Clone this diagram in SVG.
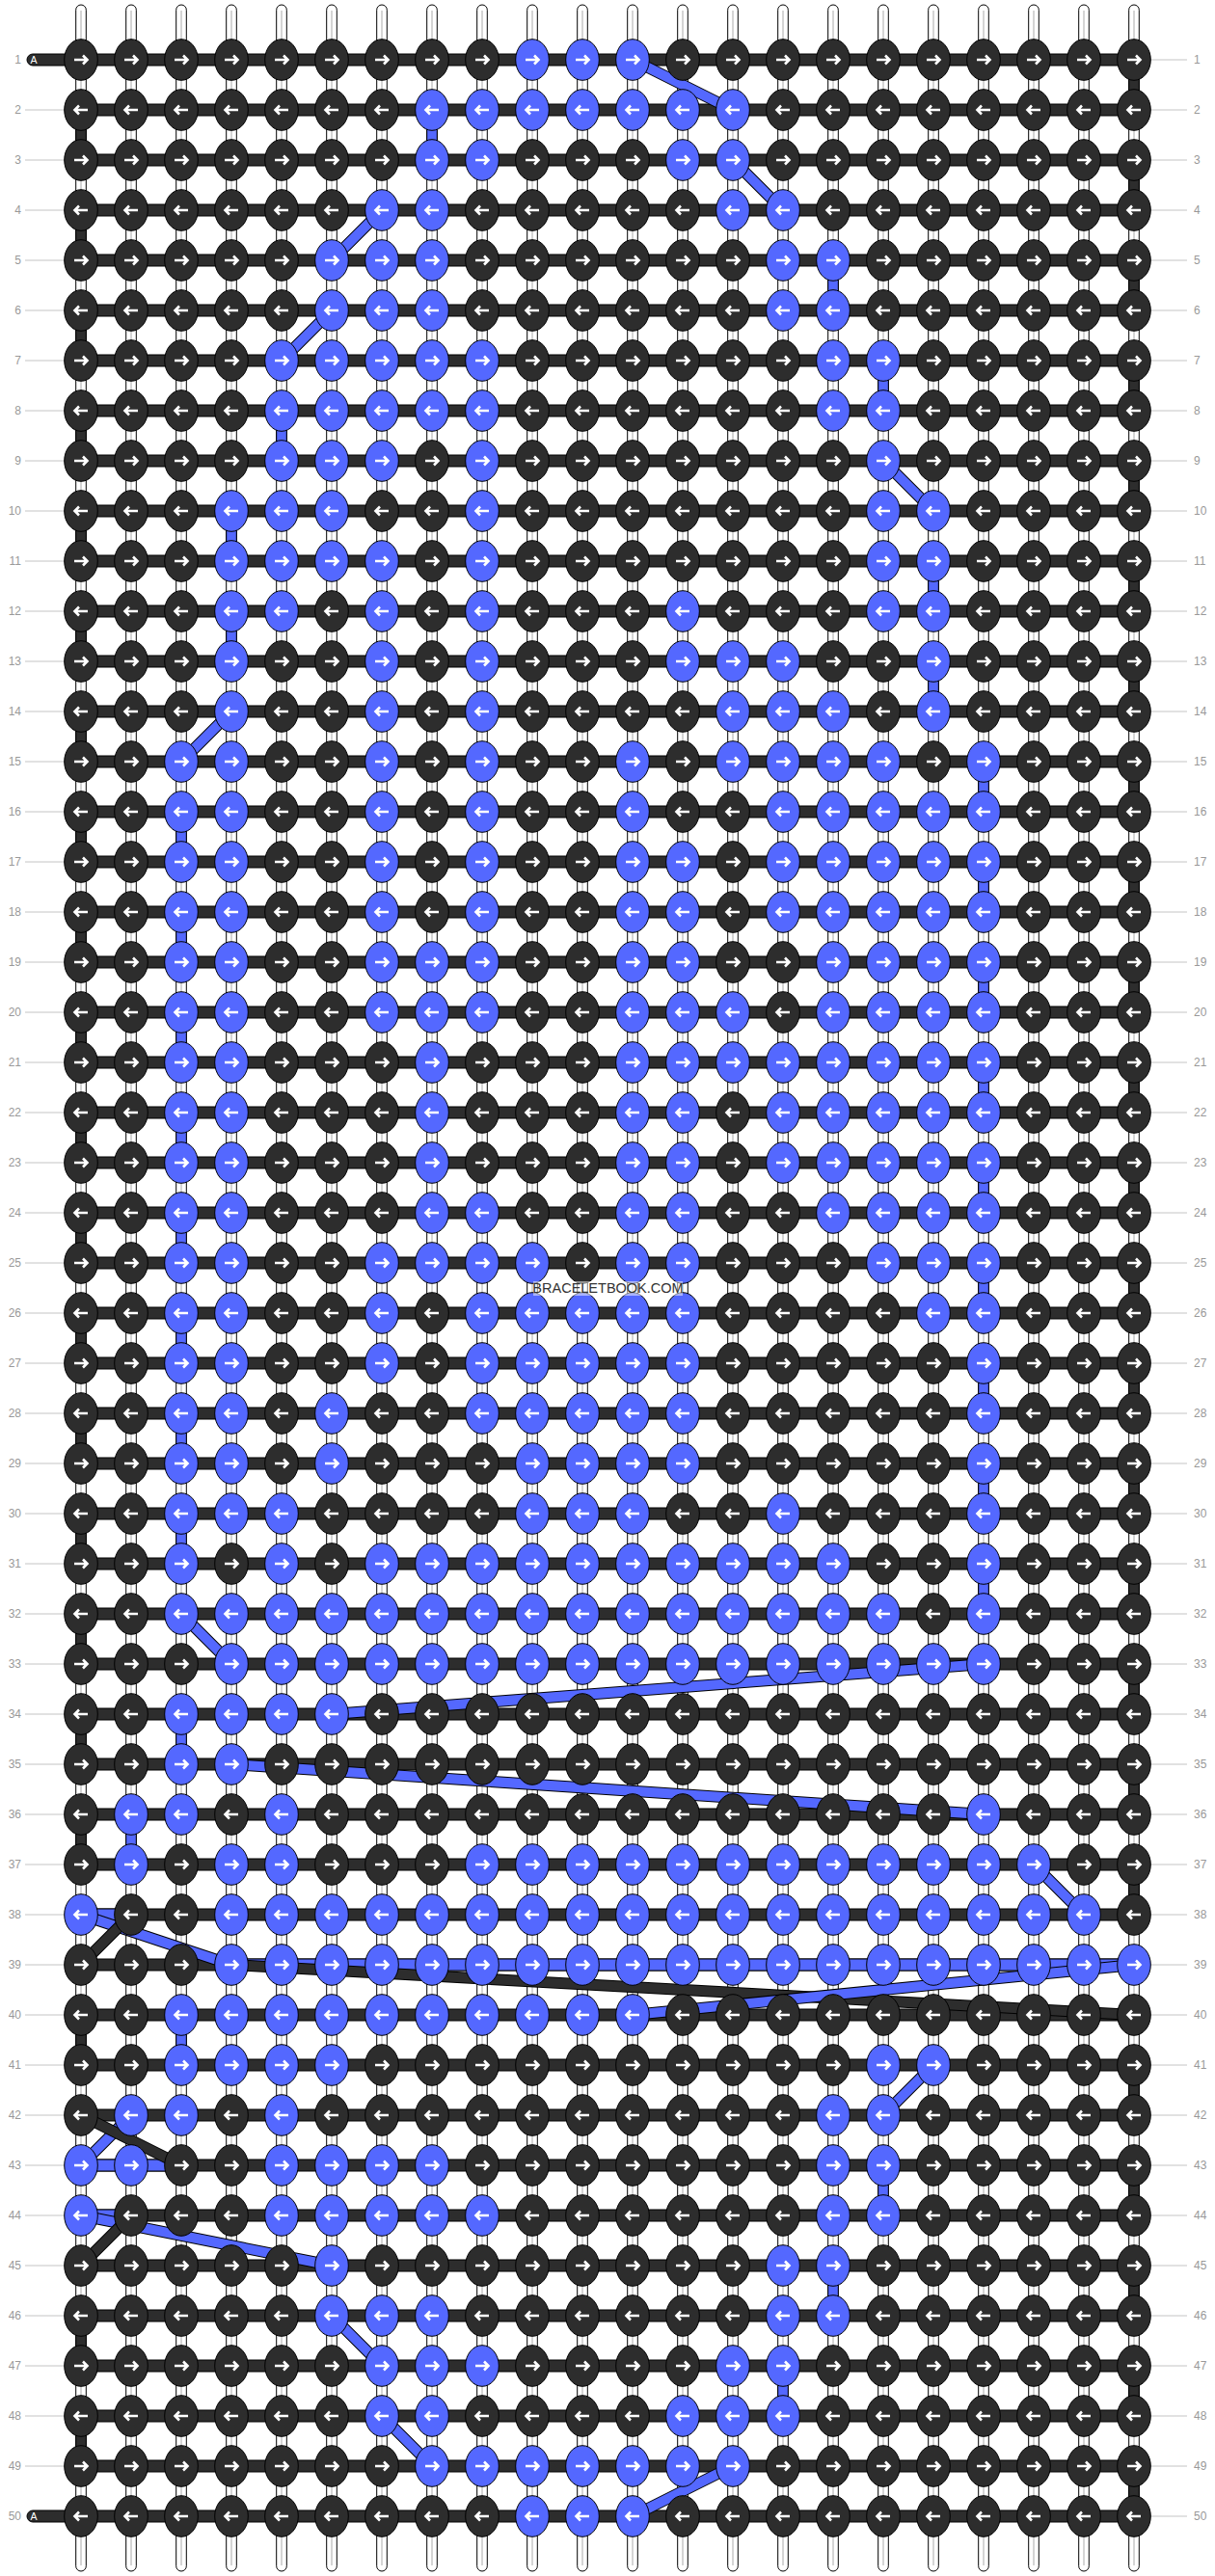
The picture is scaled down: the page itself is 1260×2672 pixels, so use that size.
<svg xmlns="http://www.w3.org/2000/svg" width="1260" height="2672" viewBox="0 0 1260 2672">
<style>
.dk{fill:#2d2d2d;stroke:#000;stroke-width:1}
.bl{fill:#5468ff;stroke:#000;stroke-width:1}
.arw{fill:none;stroke:#fff;stroke-width:2.6}
.lab{font-family:"Liberation Sans",Arial,sans-serif;font-size:12px;fill:#999}
.gl{stroke:#c4c4c4;stroke-width:1;fill:none}
</style>
<defs>
<g id="s"><rect x="-5.3" y="5" width="10.6" height="2662" rx="5.3" fill="#fff" stroke="#000"/><line x1="0" y1="11" x2="0" y2="2661" stroke="#aaa"/></g>
<path id="ar" class="arw" d="M-7 0H6.5M2-4.5L6.5 0L2 4.5"/>
<path id="al" class="arw" d="M7 0H-6.5M-2-4.5L-6.5 0L-2 4.5"/>
<g id="a"><ellipse rx="17.3" ry="21.3" class="dk"/><use href="#ar"/></g>
<g id="b"><ellipse rx="17.3" ry="21.3" class="bl"/><use href="#ar"/></g>
<g id="c"><ellipse rx="17.3" ry="21.3" class="dk"/><use href="#al"/></g>
<g id="d"><ellipse rx="17.3" ry="21.3" class="bl"/><use href="#al"/></g>
<rect id="vd" x="-5.3" y="14" width="10.6" height="24" class="dk"/>
<rect id="vb" x="-5.3" y="14" width="10.6" height="24" class="bl"/>
<rect id="hb" x="84" y="-6" width="1092" height="12" class="dk"/>
</defs>
<rect width="1260" height="2672" fill="#fff"/>
<g id="strings"><use href="#s" x="84"/><use href="#s" x="136"/><use href="#s" x="188"/><use href="#s" x="240"/><use href="#s" x="292"/><use href="#s" x="344"/><use href="#s" x="396"/><use href="#s" x="448"/><use href="#s" x="500"/><use href="#s" x="552"/><use href="#s" x="604"/><use href="#s" x="656"/><use href="#s" x="708"/><use href="#s" x="760"/><use href="#s" x="812"/><use href="#s" x="864"/><use href="#s" x="916"/><use href="#s" x="968"/><use href="#s" x="1020"/><use href="#s" x="1072"/><use href="#s" x="1124"/><use href="#s" x="1176"/></g>
<g id="row-lines">
<path class="gl" d="M26 114H66M26 166H66M26 218H66M26 270H66M26 322H66M26 374H66M26 426H66M26 478H66M26 530H66M26 582H66M26 634H66M26 686H66M26 738H66M26 790H66M26 842H66M26 894H66M26 946H66M26 998H66M26 1050H66M26 1102H66M26 1154H66M26 1206H66M26 1258H66M26 1310H66M26 1362H66M26 1414H66M26 1466H66M26 1518H66M26 1570H66M26 1622H66M26 1674H66M26 1726H66M26 1778H66M26 1830H66M26 1882H66M26 1934H66M26 1986H66M26 2038H66M26 2090H66M26 2142H66M26 2194H66M26 2246H66M26 2298H66M26 2350H66M26 2402H66M26 2454H66M26 2506H66M26 2558H66"/>
<path class="gl" d="M1194 62H1231M1194 114H1231M1194 166H1231M1194 218H1231M1194 270H1231M1194 322H1231M1194 374H1231M1194 426H1231M1194 478H1231M1194 530H1231M1194 582H1231M1194 634H1231M1194 686H1231M1194 738H1231M1194 790H1231M1194 842H1231M1194 894H1231M1194 946H1231M1194 998H1231M1194 1050H1231M1194 1102H1231M1194 1154H1231M1194 1206H1231M1194 1258H1231M1194 1310H1231M1194 1362H1231M1194 1414H1231M1194 1466H1231M1194 1518H1231M1194 1570H1231M1194 1622H1231M1194 1674H1231M1194 1726H1231M1194 1778H1231M1194 1830H1231M1194 1882H1231M1194 1934H1231M1194 1986H1231M1194 2038H1231M1194 2090H1231M1194 2142H1231M1194 2194H1231M1194 2246H1231M1194 2298H1231M1194 2350H1231M1194 2402H1231M1194 2454H1231M1194 2506H1231M1194 2558H1231M1194 2610H1231"/>
</g>
<g id="labels-left" class="lab" text-anchor="end">
<text x="22" y="66">1</text><text x="22" y="118">2</text><text x="22" y="170">3</text><text x="22" y="222">4</text><text x="22" y="274">5</text><text x="22" y="326">6</text><text x="22" y="378">7</text><text x="22" y="430">8</text><text x="22" y="482">9</text><text x="22" y="534">10</text><text x="22" y="586">11</text><text x="22" y="638">12</text><text x="22" y="690">13</text><text x="22" y="742">14</text><text x="22" y="794">15</text><text x="22" y="846">16</text><text x="22" y="898">17</text><text x="22" y="950">18</text><text x="22" y="1002">19</text><text x="22" y="1054">20</text><text x="22" y="1106">21</text><text x="22" y="1158">22</text><text x="22" y="1210">23</text><text x="22" y="1262">24</text><text x="22" y="1314">25</text><text x="22" y="1366">26</text><text x="22" y="1418">27</text><text x="22" y="1470">28</text><text x="22" y="1522">29</text><text x="22" y="1574">30</text><text x="22" y="1626">31</text><text x="22" y="1678">32</text><text x="22" y="1730">33</text><text x="22" y="1782">34</text><text x="22" y="1834">35</text><text x="22" y="1886">36</text><text x="22" y="1938">37</text><text x="22" y="1990">38</text><text x="22" y="2042">39</text><text x="22" y="2094">40</text><text x="22" y="2146">41</text><text x="22" y="2198">42</text><text x="22" y="2250">43</text><text x="22" y="2302">44</text><text x="22" y="2354">45</text><text x="22" y="2406">46</text><text x="22" y="2458">47</text><text x="22" y="2510">48</text><text x="22" y="2562">49</text><text x="22" y="2614">50</text>
</g>
<g id="labels-right" class="lab">
<text x="1238" y="66">1</text><text x="1238" y="118">2</text><text x="1238" y="170">3</text><text x="1238" y="222">4</text><text x="1238" y="274">5</text><text x="1238" y="326">6</text><text x="1238" y="378">7</text><text x="1238" y="430">8</text><text x="1238" y="482">9</text><text x="1238" y="534">10</text><text x="1238" y="586">11</text><text x="1238" y="638">12</text><text x="1238" y="690">13</text><text x="1238" y="742">14</text><text x="1238" y="794">15</text><text x="1238" y="846">16</text><text x="1238" y="898">17</text><text x="1238" y="950">18</text><text x="1238" y="1002">19</text><text x="1238" y="1054">20</text><text x="1238" y="1106">21</text><text x="1238" y="1158">22</text><text x="1238" y="1210">23</text><text x="1238" y="1262">24</text><text x="1238" y="1314">25</text><text x="1238" y="1366">26</text><text x="1238" y="1418">27</text><text x="1238" y="1470">28</text><text x="1238" y="1522">29</text><text x="1238" y="1574">30</text><text x="1238" y="1626">31</text><text x="1238" y="1678">32</text><text x="1238" y="1730">33</text><text x="1238" y="1782">34</text><text x="1238" y="1834">35</text><text x="1238" y="1886">36</text><text x="1238" y="1938">37</text><text x="1238" y="1990">38</text><text x="1238" y="2042">39</text><text x="1238" y="2094">40</text><text x="1238" y="2146">41</text><text x="1238" y="2198">42</text><text x="1238" y="2250">43</text><text x="1238" y="2302">44</text><text x="1238" y="2354">45</text><text x="1238" y="2406">46</text><text x="1238" y="2458">47</text><text x="1238" y="2510">48</text><text x="1238" y="2562">49</text><text x="1238" y="2614">50</text>
</g>
<g id="connectors">
<rect x="28" y="56" width="1148" height="12" rx="6" class="dk"/>
<rect x="28" y="2604" width="1148" height="12" rx="6" class="dk"/>
<use href="#hb" y="114"/><use href="#hb" y="166"/><use href="#hb" y="218"/><use href="#hb" y="270"/><use href="#hb" y="322"/><use href="#hb" y="374"/><use href="#hb" y="426"/><use href="#hb" y="478"/><use href="#hb" y="530"/><use href="#hb" y="582"/><use href="#hb" y="634"/><use href="#hb" y="686"/><use href="#hb" y="738"/><use href="#hb" y="790"/><use href="#hb" y="842"/><use href="#hb" y="894"/><use href="#hb" y="946"/><use href="#hb" y="998"/><use href="#hb" y="1050"/><use href="#hb" y="1102"/><use href="#hb" y="1154"/><use href="#hb" y="1206"/><use href="#hb" y="1258"/><use href="#hb" y="1310"/><use href="#hb" y="1362"/><use href="#hb" y="1414"/><use href="#hb" y="1466"/><use href="#hb" y="1518"/><use href="#hb" y="1570"/><use href="#hb" y="1622"/><use href="#hb" y="1674"/><use href="#hb" y="1726"/><use href="#hb" y="1778"/><use href="#hb" y="1830"/><use href="#hb" y="1882"/><use href="#hb" y="1934"/><use href="#hb" y="1986"/><use href="#hb" y="2038"/><use href="#hb" y="2090"/><use href="#hb" y="2142"/><use href="#hb" y="2194"/><use href="#hb" y="2246"/><use href="#hb" y="2298"/><use href="#hb" y="2350"/><use href="#hb" y="2402"/><use href="#hb" y="2454"/><use href="#hb" y="2506"/><use href="#hb" y="2558"/>
<rect x="84" y="1980" width="52" height="12" class="bl"/>
<rect x="240" y="2032" width="936" height="12" class="bl"/>
<rect x="84" y="2240" width="104" height="12" class="bl"/>
<rect x="84" y="2292" width="52" height="12" class="bl"/>
<use href="#vd" x="1176" y="62"/><use href="#vd" x="1176" y="166"/><use href="#vd" x="1176" y="270"/><use href="#vd" x="1176" y="374"/><use href="#vd" x="1176" y="478"/><use href="#vd" x="1176" y="582"/><use href="#vd" x="1176" y="686"/><use href="#vd" x="1176" y="790"/><use href="#vd" x="1176" y="894"/><use href="#vd" x="1176" y="998"/><use href="#vd" x="1176" y="1102"/><use href="#vd" x="1176" y="1206"/><use href="#vd" x="1176" y="1310"/><use href="#vd" x="1176" y="1414"/><use href="#vd" x="1176" y="1518"/><use href="#vd" x="1176" y="1622"/><use href="#vd" x="1176" y="1726"/><use href="#vd" x="1176" y="1830"/><use href="#vd" x="1176" y="1934"/><use href="#vd" x="1176" y="2142"/><use href="#vd" x="1176" y="2246"/><use href="#vd" x="1176" y="2350"/><use href="#vd" x="1176" y="2454"/><use href="#vd" x="1176" y="2558"/>
<use href="#vd" x="84" y="114"/><use href="#vd" x="84" y="218"/><use href="#vd" x="84" y="322"/><use href="#vd" x="84" y="426"/><use href="#vd" x="84" y="530"/><use href="#vd" x="84" y="634"/><use href="#vd" x="84" y="738"/><use href="#vd" x="84" y="842"/><use href="#vd" x="84" y="946"/><use href="#vd" x="84" y="1050"/><use href="#vd" x="84" y="1154"/><use href="#vd" x="84" y="1258"/><use href="#vd" x="84" y="1362"/><use href="#vd" x="84" y="1466"/><use href="#vd" x="84" y="1570"/><use href="#vd" x="84" y="1674"/><use href="#vd" x="84" y="1778"/><use href="#vd" x="84" y="1882"/><use href="#vd" x="84" y="2090"/><use href="#vd" x="84" y="2402"/><use href="#vd" x="84" y="2506"/>
<use href="#vb" x="448" y="114"/><use href="#vb" x="864" y="270"/><use href="#vb" x="916" y="374"/><use href="#vb" x="292" y="426"/><use href="#vb" x="240" y="530"/><use href="#vb" x="968" y="582"/><use href="#vb" x="240" y="634"/><use href="#vb" x="968" y="686"/><use href="#vb" x="1020" y="790"/><use href="#vb" x="188" y="842"/><use href="#vb" x="1020" y="894"/><use href="#vb" x="188" y="946"/><use href="#vb" x="1020" y="998"/><use href="#vb" x="188" y="1050"/><use href="#vb" x="1020" y="1102"/><use href="#vb" x="188" y="1154"/><use href="#vb" x="1020" y="1206"/><use href="#vb" x="188" y="1258"/><use href="#vb" x="1020" y="1310"/><use href="#vb" x="188" y="1362"/><use href="#vb" x="1020" y="1414"/><use href="#vb" x="188" y="1466"/><use href="#vb" x="1020" y="1518"/><use href="#vb" x="188" y="1570"/><use href="#vb" x="1020" y="1622"/><use href="#vb" x="188" y="1778"/><use href="#vb" x="136" y="1882"/><use href="#vb" x="188" y="2090"/><use href="#vb" x="916" y="2246"/><use href="#vb" x="864" y="2350"/><use href="#vb" x="812" y="2454"/>
<path d="M656 62L760 114M760 166L812 218M396 218L344 270M344 322L292 374M916 478L968 530M240 738L188 790M188 1674L240 1726M1020 1726L344 1778M240 1830L1020 1882M1072 1934L1124 1986M84 1986L240 2038M968 2142L916 2194M136 2194L84 2246M84 2298L344 2350M344 2402L396 2454M396 2506L448 2558M760 2558L656 2610" fill="none" stroke="#000" stroke-width="12"/>
<path d="M656 62L760 114M760 166L812 218M396 218L344 270M344 322L292 374M916 478L968 530M240 738L188 790M188 1674L240 1726M1020 1726L344 1778M240 1830L1020 1882M1072 1934L1124 1986M84 1986L240 2038M968 2142L916 2194M136 2194L84 2246M84 2298L344 2350M344 2402L396 2454M396 2506L448 2558M760 2558L656 2610" fill="none" stroke="#5468ff" stroke-width="10"/>
<path d="M136 1986L84 2038M240 2038L1176 2090M84 2194L188 2246M136 2298L84 2350" fill="none" stroke="#000" stroke-width="12"/>
<path d="M136 1986L84 2038M240 2038L1176 2090M84 2194L188 2246M136 2298L84 2350" fill="none" stroke="#2d2d2d" stroke-width="10"/>
<path d="M1176 2038L656 2090" fill="none" stroke="#000" stroke-width="12"/>
<path d="M1176 2038L656 2090" fill="none" stroke="#5468ff" stroke-width="10"/>
</g>
<g id="row1" transform="translate(0,62)"><use href="#a" x="84"/><use href="#a" x="136"/><use href="#a" x="188"/><use href="#a" x="240"/><use href="#a" x="292"/><use href="#a" x="344"/><use href="#a" x="396"/><use href="#a" x="448"/><use href="#a" x="500"/><use href="#b" x="552"/><use href="#b" x="604"/><use href="#b" x="656"/><use href="#a" x="708"/><use href="#a" x="760"/><use href="#a" x="812"/><use href="#a" x="864"/><use href="#a" x="916"/><use href="#a" x="968"/><use href="#a" x="1020"/><use href="#a" x="1072"/><use href="#a" x="1124"/><use href="#a" x="1176"/></g>
<g id="row2" transform="translate(0,114)"><use href="#c" x="84"/><use href="#c" x="136"/><use href="#c" x="188"/><use href="#c" x="240"/><use href="#c" x="292"/><use href="#c" x="344"/><use href="#c" x="396"/><use href="#d" x="448"/><use href="#d" x="500"/><use href="#d" x="552"/><use href="#d" x="604"/><use href="#d" x="656"/><use href="#d" x="708"/><use href="#d" x="760"/><use href="#c" x="812"/><use href="#c" x="864"/><use href="#c" x="916"/><use href="#c" x="968"/><use href="#c" x="1020"/><use href="#c" x="1072"/><use href="#c" x="1124"/><use href="#c" x="1176"/></g>
<g id="row3" transform="translate(0,166)"><use href="#a" x="84"/><use href="#a" x="136"/><use href="#a" x="188"/><use href="#a" x="240"/><use href="#a" x="292"/><use href="#a" x="344"/><use href="#a" x="396"/><use href="#b" x="448"/><use href="#b" x="500"/><use href="#a" x="552"/><use href="#a" x="604"/><use href="#a" x="656"/><use href="#b" x="708"/><use href="#b" x="760"/><use href="#a" x="812"/><use href="#a" x="864"/><use href="#a" x="916"/><use href="#a" x="968"/><use href="#a" x="1020"/><use href="#a" x="1072"/><use href="#a" x="1124"/><use href="#a" x="1176"/></g>
<g id="row4" transform="translate(0,218)"><use href="#c" x="84"/><use href="#c" x="136"/><use href="#c" x="188"/><use href="#c" x="240"/><use href="#c" x="292"/><use href="#c" x="344"/><use href="#d" x="396"/><use href="#d" x="448"/><use href="#c" x="500"/><use href="#c" x="552"/><use href="#c" x="604"/><use href="#c" x="656"/><use href="#c" x="708"/><use href="#d" x="760"/><use href="#d" x="812"/><use href="#c" x="864"/><use href="#c" x="916"/><use href="#c" x="968"/><use href="#c" x="1020"/><use href="#c" x="1072"/><use href="#c" x="1124"/><use href="#c" x="1176"/></g>
<g id="row5" transform="translate(0,270)"><use href="#a" x="84"/><use href="#a" x="136"/><use href="#a" x="188"/><use href="#a" x="240"/><use href="#a" x="292"/><use href="#b" x="344"/><use href="#b" x="396"/><use href="#b" x="448"/><use href="#a" x="500"/><use href="#a" x="552"/><use href="#a" x="604"/><use href="#a" x="656"/><use href="#a" x="708"/><use href="#a" x="760"/><use href="#b" x="812"/><use href="#b" x="864"/><use href="#a" x="916"/><use href="#a" x="968"/><use href="#a" x="1020"/><use href="#a" x="1072"/><use href="#a" x="1124"/><use href="#a" x="1176"/></g>
<g id="row6" transform="translate(0,322)"><use href="#c" x="84"/><use href="#c" x="136"/><use href="#c" x="188"/><use href="#c" x="240"/><use href="#c" x="292"/><use href="#d" x="344"/><use href="#d" x="396"/><use href="#d" x="448"/><use href="#c" x="500"/><use href="#c" x="552"/><use href="#c" x="604"/><use href="#c" x="656"/><use href="#c" x="708"/><use href="#c" x="760"/><use href="#d" x="812"/><use href="#d" x="864"/><use href="#c" x="916"/><use href="#c" x="968"/><use href="#c" x="1020"/><use href="#c" x="1072"/><use href="#c" x="1124"/><use href="#c" x="1176"/></g>
<g id="row7" transform="translate(0,374)"><use href="#a" x="84"/><use href="#a" x="136"/><use href="#a" x="188"/><use href="#a" x="240"/><use href="#b" x="292"/><use href="#b" x="344"/><use href="#b" x="396"/><use href="#b" x="448"/><use href="#b" x="500"/><use href="#a" x="552"/><use href="#a" x="604"/><use href="#a" x="656"/><use href="#a" x="708"/><use href="#a" x="760"/><use href="#a" x="812"/><use href="#b" x="864"/><use href="#b" x="916"/><use href="#a" x="968"/><use href="#a" x="1020"/><use href="#a" x="1072"/><use href="#a" x="1124"/><use href="#a" x="1176"/></g>
<g id="row8" transform="translate(0,426)"><use href="#c" x="84"/><use href="#c" x="136"/><use href="#c" x="188"/><use href="#c" x="240"/><use href="#d" x="292"/><use href="#d" x="344"/><use href="#d" x="396"/><use href="#d" x="448"/><use href="#d" x="500"/><use href="#c" x="552"/><use href="#c" x="604"/><use href="#c" x="656"/><use href="#c" x="708"/><use href="#c" x="760"/><use href="#c" x="812"/><use href="#d" x="864"/><use href="#d" x="916"/><use href="#c" x="968"/><use href="#c" x="1020"/><use href="#c" x="1072"/><use href="#c" x="1124"/><use href="#c" x="1176"/></g>
<g id="row9" transform="translate(0,478)"><use href="#a" x="84"/><use href="#a" x="136"/><use href="#a" x="188"/><use href="#a" x="240"/><use href="#b" x="292"/><use href="#b" x="344"/><use href="#b" x="396"/><use href="#a" x="448"/><use href="#b" x="500"/><use href="#a" x="552"/><use href="#a" x="604"/><use href="#a" x="656"/><use href="#a" x="708"/><use href="#a" x="760"/><use href="#a" x="812"/><use href="#a" x="864"/><use href="#b" x="916"/><use href="#a" x="968"/><use href="#a" x="1020"/><use href="#a" x="1072"/><use href="#a" x="1124"/><use href="#a" x="1176"/></g>
<g id="row10" transform="translate(0,530)"><use href="#c" x="84"/><use href="#c" x="136"/><use href="#c" x="188"/><use href="#d" x="240"/><use href="#d" x="292"/><use href="#d" x="344"/><use href="#c" x="396"/><use href="#c" x="448"/><use href="#d" x="500"/><use href="#c" x="552"/><use href="#c" x="604"/><use href="#c" x="656"/><use href="#c" x="708"/><use href="#c" x="760"/><use href="#c" x="812"/><use href="#c" x="864"/><use href="#d" x="916"/><use href="#d" x="968"/><use href="#c" x="1020"/><use href="#c" x="1072"/><use href="#c" x="1124"/><use href="#c" x="1176"/></g>
<g id="row11" transform="translate(0,582)"><use href="#a" x="84"/><use href="#a" x="136"/><use href="#a" x="188"/><use href="#b" x="240"/><use href="#b" x="292"/><use href="#b" x="344"/><use href="#b" x="396"/><use href="#a" x="448"/><use href="#b" x="500"/><use href="#a" x="552"/><use href="#a" x="604"/><use href="#a" x="656"/><use href="#a" x="708"/><use href="#a" x="760"/><use href="#a" x="812"/><use href="#a" x="864"/><use href="#b" x="916"/><use href="#b" x="968"/><use href="#a" x="1020"/><use href="#a" x="1072"/><use href="#a" x="1124"/><use href="#a" x="1176"/></g>
<g id="row12" transform="translate(0,634)"><use href="#c" x="84"/><use href="#c" x="136"/><use href="#c" x="188"/><use href="#d" x="240"/><use href="#d" x="292"/><use href="#c" x="344"/><use href="#d" x="396"/><use href="#c" x="448"/><use href="#d" x="500"/><use href="#c" x="552"/><use href="#c" x="604"/><use href="#c" x="656"/><use href="#d" x="708"/><use href="#c" x="760"/><use href="#c" x="812"/><use href="#c" x="864"/><use href="#d" x="916"/><use href="#d" x="968"/><use href="#c" x="1020"/><use href="#c" x="1072"/><use href="#c" x="1124"/><use href="#c" x="1176"/></g>
<g id="row13" transform="translate(0,686)"><use href="#a" x="84"/><use href="#a" x="136"/><use href="#a" x="188"/><use href="#b" x="240"/><use href="#a" x="292"/><use href="#a" x="344"/><use href="#b" x="396"/><use href="#a" x="448"/><use href="#b" x="500"/><use href="#a" x="552"/><use href="#a" x="604"/><use href="#a" x="656"/><use href="#b" x="708"/><use href="#b" x="760"/><use href="#b" x="812"/><use href="#a" x="864"/><use href="#a" x="916"/><use href="#b" x="968"/><use href="#a" x="1020"/><use href="#a" x="1072"/><use href="#a" x="1124"/><use href="#a" x="1176"/></g>
<g id="row14" transform="translate(0,738)"><use href="#c" x="84"/><use href="#c" x="136"/><use href="#c" x="188"/><use href="#d" x="240"/><use href="#c" x="292"/><use href="#c" x="344"/><use href="#d" x="396"/><use href="#c" x="448"/><use href="#d" x="500"/><use href="#c" x="552"/><use href="#c" x="604"/><use href="#c" x="656"/><use href="#c" x="708"/><use href="#d" x="760"/><use href="#d" x="812"/><use href="#d" x="864"/><use href="#c" x="916"/><use href="#d" x="968"/><use href="#c" x="1020"/><use href="#c" x="1072"/><use href="#c" x="1124"/><use href="#c" x="1176"/></g>
<g id="row15" transform="translate(0,790)"><use href="#a" x="84"/><use href="#a" x="136"/><use href="#b" x="188"/><use href="#b" x="240"/><use href="#a" x="292"/><use href="#a" x="344"/><use href="#b" x="396"/><use href="#a" x="448"/><use href="#b" x="500"/><use href="#a" x="552"/><use href="#a" x="604"/><use href="#b" x="656"/><use href="#a" x="708"/><use href="#b" x="760"/><use href="#b" x="812"/><use href="#b" x="864"/><use href="#b" x="916"/><use href="#a" x="968"/><use href="#b" x="1020"/><use href="#a" x="1072"/><use href="#a" x="1124"/><use href="#a" x="1176"/></g>
<g id="row16" transform="translate(0,842)"><use href="#c" x="84"/><use href="#c" x="136"/><use href="#d" x="188"/><use href="#d" x="240"/><use href="#c" x="292"/><use href="#c" x="344"/><use href="#d" x="396"/><use href="#c" x="448"/><use href="#d" x="500"/><use href="#c" x="552"/><use href="#c" x="604"/><use href="#d" x="656"/><use href="#c" x="708"/><use href="#c" x="760"/><use href="#d" x="812"/><use href="#d" x="864"/><use href="#d" x="916"/><use href="#d" x="968"/><use href="#d" x="1020"/><use href="#c" x="1072"/><use href="#c" x="1124"/><use href="#c" x="1176"/></g>
<g id="row17" transform="translate(0,894)"><use href="#a" x="84"/><use href="#a" x="136"/><use href="#b" x="188"/><use href="#b" x="240"/><use href="#a" x="292"/><use href="#a" x="344"/><use href="#b" x="396"/><use href="#a" x="448"/><use href="#b" x="500"/><use href="#a" x="552"/><use href="#a" x="604"/><use href="#b" x="656"/><use href="#b" x="708"/><use href="#a" x="760"/><use href="#b" x="812"/><use href="#b" x="864"/><use href="#b" x="916"/><use href="#b" x="968"/><use href="#b" x="1020"/><use href="#a" x="1072"/><use href="#a" x="1124"/><use href="#a" x="1176"/></g>
<g id="row18" transform="translate(0,946)"><use href="#c" x="84"/><use href="#c" x="136"/><use href="#d" x="188"/><use href="#d" x="240"/><use href="#c" x="292"/><use href="#c" x="344"/><use href="#d" x="396"/><use href="#c" x="448"/><use href="#d" x="500"/><use href="#c" x="552"/><use href="#c" x="604"/><use href="#d" x="656"/><use href="#d" x="708"/><use href="#c" x="760"/><use href="#d" x="812"/><use href="#d" x="864"/><use href="#d" x="916"/><use href="#d" x="968"/><use href="#d" x="1020"/><use href="#c" x="1072"/><use href="#c" x="1124"/><use href="#c" x="1176"/></g>
<g id="row19" transform="translate(0,998)"><use href="#a" x="84"/><use href="#a" x="136"/><use href="#b" x="188"/><use href="#b" x="240"/><use href="#a" x="292"/><use href="#a" x="344"/><use href="#b" x="396"/><use href="#b" x="448"/><use href="#b" x="500"/><use href="#a" x="552"/><use href="#a" x="604"/><use href="#b" x="656"/><use href="#b" x="708"/><use href="#a" x="760"/><use href="#a" x="812"/><use href="#b" x="864"/><use href="#b" x="916"/><use href="#b" x="968"/><use href="#b" x="1020"/><use href="#a" x="1072"/><use href="#a" x="1124"/><use href="#a" x="1176"/></g>
<g id="row20" transform="translate(0,1050)"><use href="#c" x="84"/><use href="#c" x="136"/><use href="#d" x="188"/><use href="#d" x="240"/><use href="#c" x="292"/><use href="#c" x="344"/><use href="#d" x="396"/><use href="#d" x="448"/><use href="#d" x="500"/><use href="#c" x="552"/><use href="#c" x="604"/><use href="#d" x="656"/><use href="#d" x="708"/><use href="#d" x="760"/><use href="#c" x="812"/><use href="#d" x="864"/><use href="#d" x="916"/><use href="#d" x="968"/><use href="#d" x="1020"/><use href="#c" x="1072"/><use href="#c" x="1124"/><use href="#c" x="1176"/></g>
<g id="row21" transform="translate(0,1102)"><use href="#a" x="84"/><use href="#a" x="136"/><use href="#b" x="188"/><use href="#b" x="240"/><use href="#a" x="292"/><use href="#a" x="344"/><use href="#a" x="396"/><use href="#b" x="448"/><use href="#a" x="500"/><use href="#a" x="552"/><use href="#a" x="604"/><use href="#b" x="656"/><use href="#b" x="708"/><use href="#b" x="760"/><use href="#b" x="812"/><use href="#b" x="864"/><use href="#b" x="916"/><use href="#b" x="968"/><use href="#b" x="1020"/><use href="#a" x="1072"/><use href="#a" x="1124"/><use href="#a" x="1176"/></g>
<g id="row22" transform="translate(0,1154)"><use href="#c" x="84"/><use href="#c" x="136"/><use href="#d" x="188"/><use href="#d" x="240"/><use href="#c" x="292"/><use href="#c" x="344"/><use href="#c" x="396"/><use href="#d" x="448"/><use href="#c" x="500"/><use href="#c" x="552"/><use href="#c" x="604"/><use href="#d" x="656"/><use href="#d" x="708"/><use href="#c" x="760"/><use href="#d" x="812"/><use href="#d" x="864"/><use href="#d" x="916"/><use href="#d" x="968"/><use href="#d" x="1020"/><use href="#c" x="1072"/><use href="#c" x="1124"/><use href="#c" x="1176"/></g>
<g id="row23" transform="translate(0,1206)"><use href="#a" x="84"/><use href="#a" x="136"/><use href="#b" x="188"/><use href="#b" x="240"/><use href="#a" x="292"/><use href="#a" x="344"/><use href="#a" x="396"/><use href="#b" x="448"/><use href="#a" x="500"/><use href="#a" x="552"/><use href="#a" x="604"/><use href="#b" x="656"/><use href="#b" x="708"/><use href="#a" x="760"/><use href="#b" x="812"/><use href="#b" x="864"/><use href="#b" x="916"/><use href="#b" x="968"/><use href="#b" x="1020"/><use href="#a" x="1072"/><use href="#a" x="1124"/><use href="#a" x="1176"/></g>
<g id="row24" transform="translate(0,1258)"><use href="#c" x="84"/><use href="#c" x="136"/><use href="#d" x="188"/><use href="#d" x="240"/><use href="#c" x="292"/><use href="#c" x="344"/><use href="#c" x="396"/><use href="#d" x="448"/><use href="#d" x="500"/><use href="#c" x="552"/><use href="#c" x="604"/><use href="#d" x="656"/><use href="#d" x="708"/><use href="#c" x="760"/><use href="#c" x="812"/><use href="#d" x="864"/><use href="#d" x="916"/><use href="#d" x="968"/><use href="#d" x="1020"/><use href="#c" x="1072"/><use href="#c" x="1124"/><use href="#c" x="1176"/></g>
<g id="row25" transform="translate(0,1310)"><use href="#a" x="84"/><use href="#a" x="136"/><use href="#b" x="188"/><use href="#b" x="240"/><use href="#a" x="292"/><use href="#a" x="344"/><use href="#b" x="396"/><use href="#b" x="448"/><use href="#b" x="500"/><use href="#b" x="552"/><use href="#a" x="604"/><use href="#b" x="656"/><use href="#b" x="708"/><use href="#a" x="760"/><use href="#a" x="812"/><use href="#a" x="864"/><use href="#b" x="916"/><use href="#b" x="968"/><use href="#b" x="1020"/><use href="#a" x="1072"/><use href="#a" x="1124"/><use href="#a" x="1176"/></g>
<g id="row26" transform="translate(0,1362)"><use href="#c" x="84"/><use href="#c" x="136"/><use href="#d" x="188"/><use href="#d" x="240"/><use href="#c" x="292"/><use href="#c" x="344"/><use href="#d" x="396"/><use href="#c" x="448"/><use href="#d" x="500"/><use href="#d" x="552"/><use href="#d" x="604"/><use href="#d" x="656"/><use href="#d" x="708"/><use href="#c" x="760"/><use href="#c" x="812"/><use href="#c" x="864"/><use href="#c" x="916"/><use href="#d" x="968"/><use href="#d" x="1020"/><use href="#c" x="1072"/><use href="#c" x="1124"/><use href="#c" x="1176"/></g>
<g id="row27" transform="translate(0,1414)"><use href="#a" x="84"/><use href="#a" x="136"/><use href="#b" x="188"/><use href="#b" x="240"/><use href="#a" x="292"/><use href="#a" x="344"/><use href="#b" x="396"/><use href="#a" x="448"/><use href="#b" x="500"/><use href="#b" x="552"/><use href="#b" x="604"/><use href="#b" x="656"/><use href="#b" x="708"/><use href="#a" x="760"/><use href="#a" x="812"/><use href="#a" x="864"/><use href="#a" x="916"/><use href="#a" x="968"/><use href="#b" x="1020"/><use href="#a" x="1072"/><use href="#a" x="1124"/><use href="#a" x="1176"/></g>
<g id="row28" transform="translate(0,1466)"><use href="#c" x="84"/><use href="#c" x="136"/><use href="#d" x="188"/><use href="#d" x="240"/><use href="#c" x="292"/><use href="#d" x="344"/><use href="#c" x="396"/><use href="#c" x="448"/><use href="#d" x="500"/><use href="#d" x="552"/><use href="#d" x="604"/><use href="#d" x="656"/><use href="#d" x="708"/><use href="#c" x="760"/><use href="#c" x="812"/><use href="#c" x="864"/><use href="#c" x="916"/><use href="#c" x="968"/><use href="#d" x="1020"/><use href="#c" x="1072"/><use href="#c" x="1124"/><use href="#c" x="1176"/></g>
<g id="row29" transform="translate(0,1518)"><use href="#a" x="84"/><use href="#a" x="136"/><use href="#b" x="188"/><use href="#b" x="240"/><use href="#a" x="292"/><use href="#b" x="344"/><use href="#a" x="396"/><use href="#a" x="448"/><use href="#a" x="500"/><use href="#b" x="552"/><use href="#b" x="604"/><use href="#b" x="656"/><use href="#b" x="708"/><use href="#a" x="760"/><use href="#a" x="812"/><use href="#a" x="864"/><use href="#a" x="916"/><use href="#a" x="968"/><use href="#b" x="1020"/><use href="#a" x="1072"/><use href="#a" x="1124"/><use href="#a" x="1176"/></g>
<g id="row30" transform="translate(0,1570)"><use href="#c" x="84"/><use href="#c" x="136"/><use href="#d" x="188"/><use href="#d" x="240"/><use href="#d" x="292"/><use href="#c" x="344"/><use href="#c" x="396"/><use href="#c" x="448"/><use href="#c" x="500"/><use href="#d" x="552"/><use href="#d" x="604"/><use href="#d" x="656"/><use href="#c" x="708"/><use href="#c" x="760"/><use href="#d" x="812"/><use href="#c" x="864"/><use href="#c" x="916"/><use href="#c" x="968"/><use href="#d" x="1020"/><use href="#c" x="1072"/><use href="#c" x="1124"/><use href="#c" x="1176"/></g>
<g id="row31" transform="translate(0,1622)"><use href="#a" x="84"/><use href="#a" x="136"/><use href="#b" x="188"/><use href="#a" x="240"/><use href="#b" x="292"/><use href="#a" x="344"/><use href="#b" x="396"/><use href="#b" x="448"/><use href="#b" x="500"/><use href="#b" x="552"/><use href="#b" x="604"/><use href="#b" x="656"/><use href="#b" x="708"/><use href="#b" x="760"/><use href="#b" x="812"/><use href="#b" x="864"/><use href="#a" x="916"/><use href="#a" x="968"/><use href="#b" x="1020"/><use href="#a" x="1072"/><use href="#a" x="1124"/><use href="#a" x="1176"/></g>
<g id="row32" transform="translate(0,1674)"><use href="#c" x="84"/><use href="#c" x="136"/><use href="#d" x="188"/><use href="#d" x="240"/><use href="#d" x="292"/><use href="#d" x="344"/><use href="#d" x="396"/><use href="#d" x="448"/><use href="#d" x="500"/><use href="#d" x="552"/><use href="#d" x="604"/><use href="#d" x="656"/><use href="#d" x="708"/><use href="#d" x="760"/><use href="#d" x="812"/><use href="#d" x="864"/><use href="#d" x="916"/><use href="#c" x="968"/><use href="#d" x="1020"/><use href="#c" x="1072"/><use href="#c" x="1124"/><use href="#c" x="1176"/></g>
<g id="row33" transform="translate(0,1726)"><use href="#a" x="84"/><use href="#a" x="136"/><use href="#a" x="188"/><use href="#b" x="240"/><use href="#b" x="292"/><use href="#b" x="344"/><use href="#b" x="396"/><use href="#b" x="448"/><use href="#b" x="500"/><use href="#b" x="552"/><use href="#b" x="604"/><use href="#b" x="656"/><use href="#b" x="708"/><use href="#b" x="760"/><use href="#b" x="812"/><use href="#b" x="864"/><use href="#b" x="916"/><use href="#b" x="968"/><use href="#b" x="1020"/><use href="#a" x="1072"/><use href="#a" x="1124"/><use href="#a" x="1176"/></g>
<g id="row34" transform="translate(0,1778)"><use href="#c" x="84"/><use href="#c" x="136"/><use href="#d" x="188"/><use href="#d" x="240"/><use href="#d" x="292"/><use href="#d" x="344"/><use href="#c" x="396"/><use href="#c" x="448"/><use href="#c" x="500"/><use href="#c" x="552"/><use href="#c" x="604"/><use href="#c" x="656"/><use href="#c" x="708"/><use href="#c" x="760"/><use href="#c" x="812"/><use href="#c" x="864"/><use href="#c" x="916"/><use href="#c" x="968"/><use href="#c" x="1020"/><use href="#c" x="1072"/><use href="#c" x="1124"/><use href="#c" x="1176"/></g>
<g id="row35" transform="translate(0,1830)"><use href="#a" x="84"/><use href="#a" x="136"/><use href="#b" x="188"/><use href="#b" x="240"/><use href="#a" x="292"/><use href="#a" x="344"/><use href="#a" x="396"/><use href="#a" x="448"/><use href="#a" x="500"/><use href="#a" x="552"/><use href="#a" x="604"/><use href="#a" x="656"/><use href="#a" x="708"/><use href="#a" x="760"/><use href="#a" x="812"/><use href="#a" x="864"/><use href="#a" x="916"/><use href="#a" x="968"/><use href="#a" x="1020"/><use href="#a" x="1072"/><use href="#a" x="1124"/><use href="#a" x="1176"/></g>
<g id="row36" transform="translate(0,1882)"><use href="#c" x="84"/><use href="#d" x="136"/><use href="#d" x="188"/><use href="#c" x="240"/><use href="#d" x="292"/><use href="#c" x="344"/><use href="#c" x="396"/><use href="#c" x="448"/><use href="#c" x="500"/><use href="#c" x="552"/><use href="#c" x="604"/><use href="#c" x="656"/><use href="#c" x="708"/><use href="#c" x="760"/><use href="#c" x="812"/><use href="#c" x="864"/><use href="#c" x="916"/><use href="#c" x="968"/><use href="#d" x="1020"/><use href="#c" x="1072"/><use href="#c" x="1124"/><use href="#c" x="1176"/></g>
<g id="row37" transform="translate(0,1934)"><use href="#a" x="84"/><use href="#b" x="136"/><use href="#a" x="188"/><use href="#b" x="240"/><use href="#b" x="292"/><use href="#a" x="344"/><use href="#a" x="396"/><use href="#a" x="448"/><use href="#b" x="500"/><use href="#b" x="552"/><use href="#b" x="604"/><use href="#b" x="656"/><use href="#b" x="708"/><use href="#b" x="760"/><use href="#b" x="812"/><use href="#b" x="864"/><use href="#b" x="916"/><use href="#b" x="968"/><use href="#b" x="1020"/><use href="#b" x="1072"/><use href="#a" x="1124"/><use href="#a" x="1176"/></g>
<g id="row38" transform="translate(0,1986)"><use href="#d" x="84"/><use href="#c" x="136"/><use href="#c" x="188"/><use href="#d" x="240"/><use href="#d" x="292"/><use href="#d" x="344"/><use href="#d" x="396"/><use href="#d" x="448"/><use href="#d" x="500"/><use href="#d" x="552"/><use href="#d" x="604"/><use href="#d" x="656"/><use href="#d" x="708"/><use href="#d" x="760"/><use href="#d" x="812"/><use href="#d" x="864"/><use href="#d" x="916"/><use href="#d" x="968"/><use href="#d" x="1020"/><use href="#d" x="1072"/><use href="#d" x="1124"/><use href="#c" x="1176"/></g>
<g id="row39" transform="translate(0,2038)"><use href="#a" x="84"/><use href="#a" x="136"/><use href="#a" x="188"/><use href="#b" x="240"/><use href="#b" x="292"/><use href="#b" x="344"/><use href="#b" x="396"/><use href="#b" x="448"/><use href="#b" x="500"/><use href="#b" x="552"/><use href="#b" x="604"/><use href="#b" x="656"/><use href="#b" x="708"/><use href="#b" x="760"/><use href="#b" x="812"/><use href="#b" x="864"/><use href="#b" x="916"/><use href="#b" x="968"/><use href="#b" x="1020"/><use href="#b" x="1072"/><use href="#b" x="1124"/><use href="#b" x="1176"/></g>
<g id="row40" transform="translate(0,2090)"><use href="#c" x="84"/><use href="#c" x="136"/><use href="#d" x="188"/><use href="#d" x="240"/><use href="#d" x="292"/><use href="#d" x="344"/><use href="#d" x="396"/><use href="#d" x="448"/><use href="#d" x="500"/><use href="#d" x="552"/><use href="#d" x="604"/><use href="#d" x="656"/><use href="#c" x="708"/><use href="#c" x="760"/><use href="#c" x="812"/><use href="#c" x="864"/><use href="#c" x="916"/><use href="#c" x="968"/><use href="#c" x="1020"/><use href="#c" x="1072"/><use href="#c" x="1124"/><use href="#c" x="1176"/></g>
<g id="row41" transform="translate(0,2142)"><use href="#a" x="84"/><use href="#a" x="136"/><use href="#b" x="188"/><use href="#b" x="240"/><use href="#b" x="292"/><use href="#b" x="344"/><use href="#a" x="396"/><use href="#a" x="448"/><use href="#a" x="500"/><use href="#a" x="552"/><use href="#a" x="604"/><use href="#a" x="656"/><use href="#a" x="708"/><use href="#a" x="760"/><use href="#a" x="812"/><use href="#a" x="864"/><use href="#b" x="916"/><use href="#b" x="968"/><use href="#a" x="1020"/><use href="#a" x="1072"/><use href="#a" x="1124"/><use href="#a" x="1176"/></g>
<g id="row42" transform="translate(0,2194)"><use href="#c" x="84"/><use href="#d" x="136"/><use href="#d" x="188"/><use href="#c" x="240"/><use href="#d" x="292"/><use href="#c" x="344"/><use href="#c" x="396"/><use href="#c" x="448"/><use href="#c" x="500"/><use href="#c" x="552"/><use href="#c" x="604"/><use href="#c" x="656"/><use href="#c" x="708"/><use href="#c" x="760"/><use href="#c" x="812"/><use href="#d" x="864"/><use href="#d" x="916"/><use href="#c" x="968"/><use href="#c" x="1020"/><use href="#c" x="1072"/><use href="#c" x="1124"/><use href="#c" x="1176"/></g>
<g id="row43" transform="translate(0,2246)"><use href="#b" x="84"/><use href="#b" x="136"/><use href="#a" x="188"/><use href="#a" x="240"/><use href="#b" x="292"/><use href="#b" x="344"/><use href="#b" x="396"/><use href="#b" x="448"/><use href="#a" x="500"/><use href="#a" x="552"/><use href="#a" x="604"/><use href="#a" x="656"/><use href="#a" x="708"/><use href="#a" x="760"/><use href="#a" x="812"/><use href="#b" x="864"/><use href="#b" x="916"/><use href="#a" x="968"/><use href="#a" x="1020"/><use href="#a" x="1072"/><use href="#a" x="1124"/><use href="#a" x="1176"/></g>
<g id="row44" transform="translate(0,2298)"><use href="#d" x="84"/><use href="#c" x="136"/><use href="#c" x="188"/><use href="#c" x="240"/><use href="#d" x="292"/><use href="#d" x="344"/><use href="#d" x="396"/><use href="#d" x="448"/><use href="#d" x="500"/><use href="#c" x="552"/><use href="#c" x="604"/><use href="#c" x="656"/><use href="#c" x="708"/><use href="#c" x="760"/><use href="#c" x="812"/><use href="#d" x="864"/><use href="#d" x="916"/><use href="#c" x="968"/><use href="#c" x="1020"/><use href="#c" x="1072"/><use href="#c" x="1124"/><use href="#c" x="1176"/></g>
<g id="row45" transform="translate(0,2350)"><use href="#a" x="84"/><use href="#a" x="136"/><use href="#a" x="188"/><use href="#a" x="240"/><use href="#a" x="292"/><use href="#b" x="344"/><use href="#a" x="396"/><use href="#a" x="448"/><use href="#a" x="500"/><use href="#a" x="552"/><use href="#a" x="604"/><use href="#a" x="656"/><use href="#a" x="708"/><use href="#a" x="760"/><use href="#b" x="812"/><use href="#b" x="864"/><use href="#a" x="916"/><use href="#a" x="968"/><use href="#a" x="1020"/><use href="#a" x="1072"/><use href="#a" x="1124"/><use href="#a" x="1176"/></g>
<g id="row46" transform="translate(0,2402)"><use href="#c" x="84"/><use href="#c" x="136"/><use href="#c" x="188"/><use href="#c" x="240"/><use href="#c" x="292"/><use href="#d" x="344"/><use href="#d" x="396"/><use href="#d" x="448"/><use href="#c" x="500"/><use href="#c" x="552"/><use href="#c" x="604"/><use href="#c" x="656"/><use href="#c" x="708"/><use href="#c" x="760"/><use href="#d" x="812"/><use href="#d" x="864"/><use href="#c" x="916"/><use href="#c" x="968"/><use href="#c" x="1020"/><use href="#c" x="1072"/><use href="#c" x="1124"/><use href="#c" x="1176"/></g>
<g id="row47" transform="translate(0,2454)"><use href="#a" x="84"/><use href="#a" x="136"/><use href="#a" x="188"/><use href="#a" x="240"/><use href="#a" x="292"/><use href="#a" x="344"/><use href="#b" x="396"/><use href="#b" x="448"/><use href="#b" x="500"/><use href="#a" x="552"/><use href="#a" x="604"/><use href="#a" x="656"/><use href="#a" x="708"/><use href="#b" x="760"/><use href="#b" x="812"/><use href="#a" x="864"/><use href="#a" x="916"/><use href="#a" x="968"/><use href="#a" x="1020"/><use href="#a" x="1072"/><use href="#a" x="1124"/><use href="#a" x="1176"/></g>
<g id="row48" transform="translate(0,2506)"><use href="#c" x="84"/><use href="#c" x="136"/><use href="#c" x="188"/><use href="#c" x="240"/><use href="#c" x="292"/><use href="#c" x="344"/><use href="#d" x="396"/><use href="#d" x="448"/><use href="#c" x="500"/><use href="#c" x="552"/><use href="#c" x="604"/><use href="#c" x="656"/><use href="#d" x="708"/><use href="#d" x="760"/><use href="#d" x="812"/><use href="#c" x="864"/><use href="#c" x="916"/><use href="#c" x="968"/><use href="#c" x="1020"/><use href="#c" x="1072"/><use href="#c" x="1124"/><use href="#c" x="1176"/></g>
<g id="row49" transform="translate(0,2558)"><use href="#a" x="84"/><use href="#a" x="136"/><use href="#a" x="188"/><use href="#a" x="240"/><use href="#a" x="292"/><use href="#a" x="344"/><use href="#a" x="396"/><use href="#b" x="448"/><use href="#b" x="500"/><use href="#b" x="552"/><use href="#b" x="604"/><use href="#b" x="656"/><use href="#b" x="708"/><use href="#b" x="760"/><use href="#a" x="812"/><use href="#a" x="864"/><use href="#a" x="916"/><use href="#a" x="968"/><use href="#a" x="1020"/><use href="#a" x="1072"/><use href="#a" x="1124"/><use href="#a" x="1176"/></g>
<g id="row50" transform="translate(0,2610)"><use href="#c" x="84"/><use href="#c" x="136"/><use href="#c" x="188"/><use href="#c" x="240"/><use href="#c" x="292"/><use href="#c" x="344"/><use href="#c" x="396"/><use href="#c" x="448"/><use href="#c" x="500"/><use href="#d" x="552"/><use href="#d" x="604"/><use href="#d" x="656"/><use href="#c" x="708"/><use href="#c" x="760"/><use href="#c" x="812"/><use href="#c" x="864"/><use href="#c" x="916"/><use href="#c" x="968"/><use href="#c" x="1020"/><use href="#c" x="1072"/><use href="#c" x="1124"/><use href="#c" x="1176"/></g>
<g id="string-labels" font-family="'Liberation Sans',Arial,sans-serif" font-size="10.5" fill="#fff">
<text x="31.5" y="66">A</text>
<text x="31.5" y="2614">A</text>
</g>
<g id="watermark">
<rect x="553" y="1329" width="155" height="15" fill="#fff" fill-opacity="0.5"/>
<text x="630.5" y="1341" text-anchor="middle" font-family="'Liberation Sans',Arial,sans-serif" font-size="14.5" fill="#333">BRACELETBOOK.COM</text>
</g>
</svg>
